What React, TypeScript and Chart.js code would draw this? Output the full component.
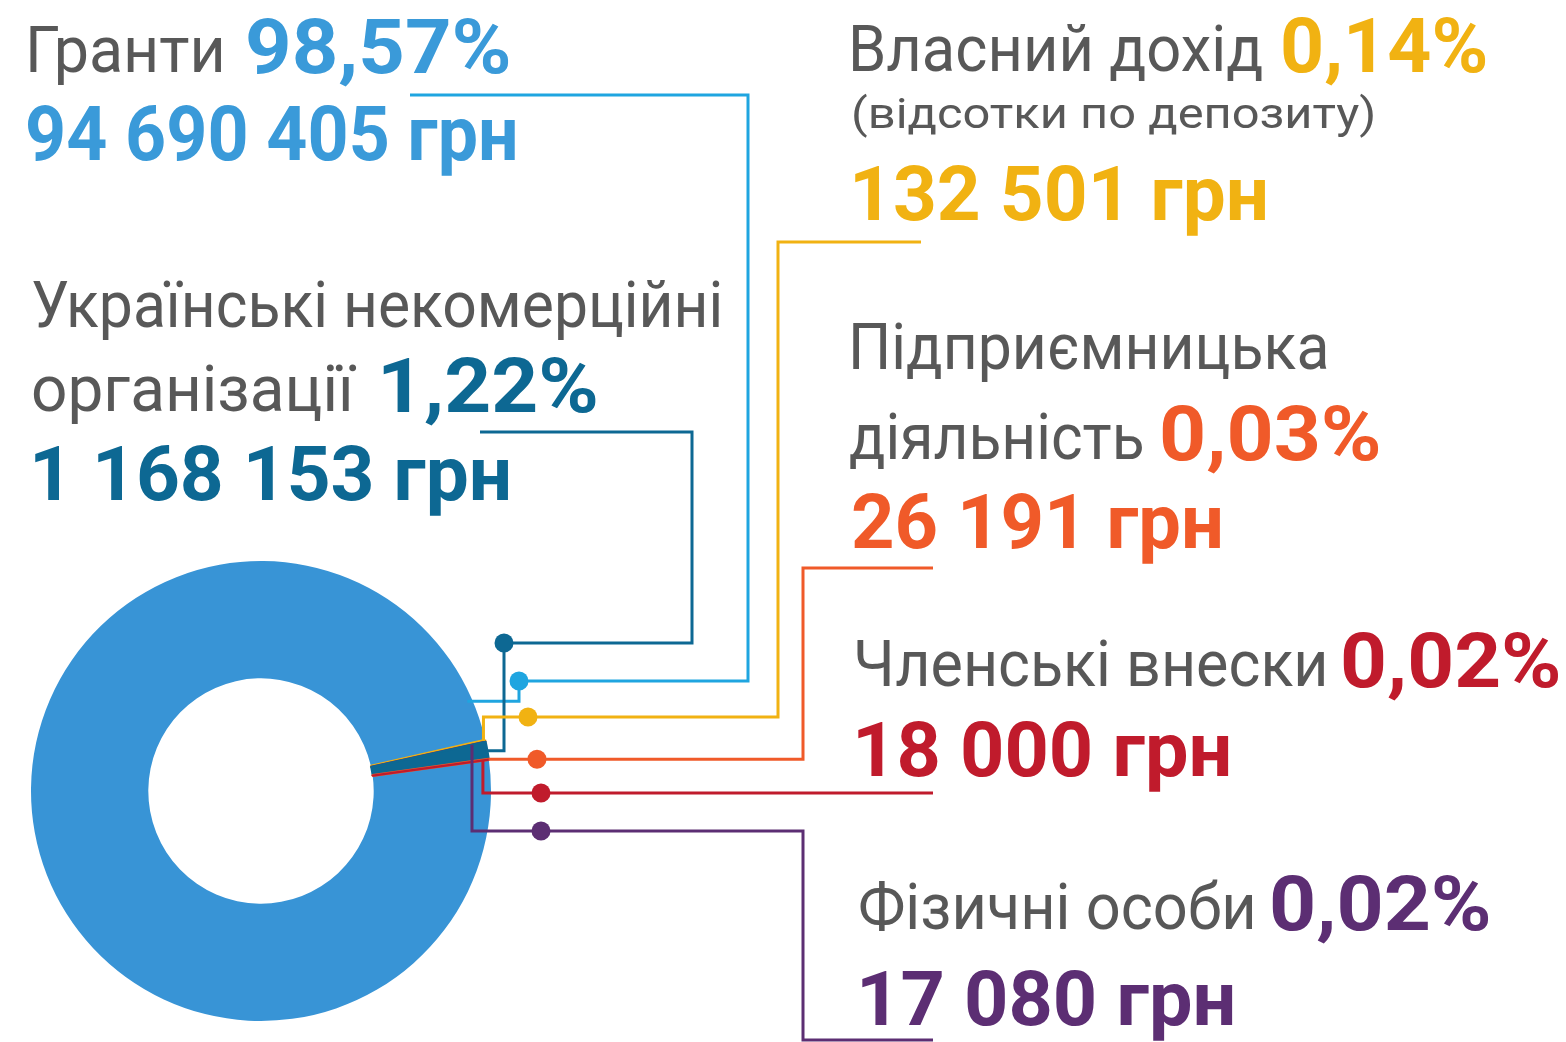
import React, { useEffect, useRef } from 'react';
import { Chart, registerables } from 'chart.js';

Chart.register(...registerables);

// ---------- DATA ----------
const nameLines: string[][] = [
  ['Гранти'],
  ['Власний дохід'],
  ['Фізичні особи'],
  ['Українські некомерційні', 'організації'],
  ['Підприємницька', 'діяльність'],
  ['Членські внески'],
];
const labels = nameLines.map((l) => l.join(' '));
const notes = ['', '(відсотки по депозиту)', '', '', '', ''];
const amounts = [94690405, 132501, 17080, 1168153, 26191, 18000];
const percents = [98.57, 0.14, 0.02, 1.22, 0.03, 0.02];

// ---------- STYLE ----------
const sliceColors = ['#3894d6', '#f1b212', '#5c2e73', '#0d6893', '#f05a29', '#c01b2c'];
const sliceBorders = [0, 2, 2, 2, 3, 2];
const textColors = ['#3a9ad9', '#f1b212', '#5c2e73', '#0d6893', '#f05a29', '#c01b2c'];
const lineColors = ['#1fa5e0', '#f1b212', '#5c2e73', '#0d6893', '#f05a29', '#c01b2c'];
const GREY = '#585858';
const W = 1566;
const H = 1042;
const CX = 261;
const CY = 791;
const R = 230;

// text layout: [x, baseline, inkWidth]
type Run = [number, number, number];
const LAYOUT: { name: Run[]; note?: Run; pct: Run; amt: Run }[] = [
  { name: [[30, 73, 192]], pct: [248, 73, 260], amt: [28, 160, 487] },
  { name: [[853, 72, 409]], note: [853, 128, 520], pct: [1283, 72, 202], amt: [855, 220, 410] },
  { name: [[860, 930, 393]], pct: [1272, 930, 216], amt: [862, 1025, 370] },
  { name: [[33, 328, 687], [33, 412, 324]], pct: [383, 412, 212], amt: [35, 500, 473] },
  { name: [[853, 370, 474], [850, 460, 292]], pct: [1162, 460, 216], amt: [853, 548, 367] },
  { name: [[857, 687, 468]], pct: [1343, 687, 215], amt: [858, 776, 370] },
];
const NAME_SIZE = 64;
const NOTE_SIZE = 42;
const BOLD_SIZE = 76;

// connectors: anchor on slice, then orthogonal route
type Step = ['h' | 'v', number];
const CONNECTORS: { index: number; from: 'mid' | 'end'; offsetDeg: number; dr: number; path: Step[]; dot: [number, number | null] }[] = [
  { index: 0, from: 'end', offsetDeg: -10.6, dr: -5, path: [['h', 519], ['v', 681], ['h', 748], ['v', 95], ['h', 410]], dot: [519, 681] },
  { index: 3, from: 'mid', offsetDeg: 0, dr: -2, path: [['h', 504], ['v', 643], ['h', 692], ['v', 432], ['h', 480]], dot: [504, 643] },
  { index: 1, from: 'mid', offsetDeg: 0, dr: -2, path: [['v', 717], ['h', 778], ['v', 242], ['h', 921]], dot: [528, 717] },
  { index: 4, from: 'mid', offsetDeg: 0, dr: 0, path: [['h', 803], ['v', 568], ['h', 933]], dot: [537, null] },
  { index: 5, from: 'mid', offsetDeg: 0, dr: -6, path: [['v', 793], ['h', 933]], dot: [541, 793] },
  { index: 2, from: 'mid', offsetDeg: 0, dr: -14, path: [['v', 831], ['h', 803], ['v', 1040], ['h', 933]], dot: [541, 831] },
];

const fmtAmount = (n: number) => String(n).replace(/\B(?=(\d{3})+(?!\d))/g, ' ') + ' грн';
const fmtPct = (p: number) => p.toFixed(2).replace('.', ',') + '%';

const connectorPlugin = {
  id: 'connectors',
  afterDatasetsDraw(chart: any) {
    const ctx = chart.ctx as CanvasRenderingContext2D;
    const meta = chart.getDatasetMeta(0);
    CONNECTORS.forEach((c) => {
      const arc = meta.data[c.index] as any;
      const p = arc.getProps(['x', 'y', 'startAngle', 'endAngle', 'outerRadius'], true);
      let a = c.from === 'end' ? p.endAngle : (p.startAngle + p.endAngle) / 2;
      a += (c.offsetDeg * Math.PI) / 180;
      const r = p.outerRadius + c.dr;
      let px = p.x + r * Math.cos(a);
      let py = p.y + r * Math.sin(a);
      const sy = py;
      const color = lineColors[c.index];
      ctx.save();
      ctx.strokeStyle = color;
      ctx.lineWidth = 3;
      ctx.lineJoin = 'miter';
      ctx.lineCap = 'butt';
      ctx.beginPath();
      ctx.moveTo(px, py);
      c.path.forEach(([d, v]) => {
        if (d === 'h') px = v;
        else py = v;
        ctx.lineTo(px, py);
      });
      ctx.stroke();
      ctx.fillStyle = color;
      ctx.beginPath();
      ctx.arc(c.dot[0], c.dot[1] === null ? sy : c.dot[1], 9.5, 0, Math.PI * 2);
      ctx.fill();
      ctx.restore();
    });
  },
};

let measureCtx: CanvasRenderingContext2D | null = null;
function fit(text: string, font: string, target: number) {
  if (!measureCtx) measureCtx = document.createElement('canvas').getContext('2d');
  const m = measureCtx!;
  m.font = font;
  const mt = m.measureText(text);
  const ink = mt.actualBoundingBoxRight + mt.actualBoundingBoxLeft;
  const s = ink > 0 ? target / ink : 1;
  return { s, shift: s * mt.actualBoundingBoxLeft };
}

function TextRun({ text, run, size, weight, color }: { text: string; run: Run; size: number; weight: number; color: string }) {
  const font = `${weight} ${size}px Roboto`;
  const { s, shift } = fit(text, font, run[2]);
  return (
    <span
      style={{
        position: 'absolute',
        left: run[0] + shift,
        top: run[1] - 0.842 * size,
        font,
        lineHeight: `${size}px`,
        whiteSpace: 'nowrap',
        color,
        transform: `scaleX(${s})`,
        transformOrigin: '0 0',
      }}
    >
      {text}
    </span>
  );
}

export default function App() {
  const ref = useRef<HTMLCanvasElement>(null);
  useEffect(() => {
    const pad = R + 1.5;
    const chart = new Chart(ref.current!, {
      type: 'doughnut',
      data: {
        labels,
        datasets: [
          {
            data: amounts,
            backgroundColor: sliceColors,
            borderColor: sliceColors,
            borderWidth: sliceBorders,
          },
        ],
      },
      options: {
        responsive: false,
        animation: false,
        rotation: 82.2,
        cutout: '49%',
        layout: { padding: { left: CX - pad, top: CY - pad, right: W - (CX + pad), bottom: H - (CY + pad) } },
        plugins: { legend: { display: false }, tooltip: { enabled: false } },
        events: [],
      } as any,
      plugins: [connectorPlugin],
    });
    return () => chart.destroy();
  }, []);

  return (
    <div style={{ position: 'fixed', left: 0, top: 0, width: W, height: H, background: '#fff', overflow: 'hidden' }}>
      <canvas ref={ref} width={W} height={H} style={{ position: 'absolute', left: 0, top: 0, width: W, height: H }} />
      {LAYOUT.map((L, i) => (
        <React.Fragment key={i}>
          {L.name.map((run, j) => (
            <TextRun key={'n' + j} text={nameLines[i][j]} run={run} size={NAME_SIZE} weight={400} color={GREY} />
          ))}
          {L.note && notes[i] ? <TextRun text={notes[i]} run={L.note} size={NOTE_SIZE} weight={400} color={GREY} /> : null}
          <TextRun text={fmtPct(percents[i])} run={L.pct} size={BOLD_SIZE} weight={700} color={textColors[i]} />
          <TextRun text={fmtAmount(amounts[i])} run={L.amt} size={BOLD_SIZE} weight={700} color={textColors[i]} />
        </React.Fragment>
      ))}
    </div>
  );
}
